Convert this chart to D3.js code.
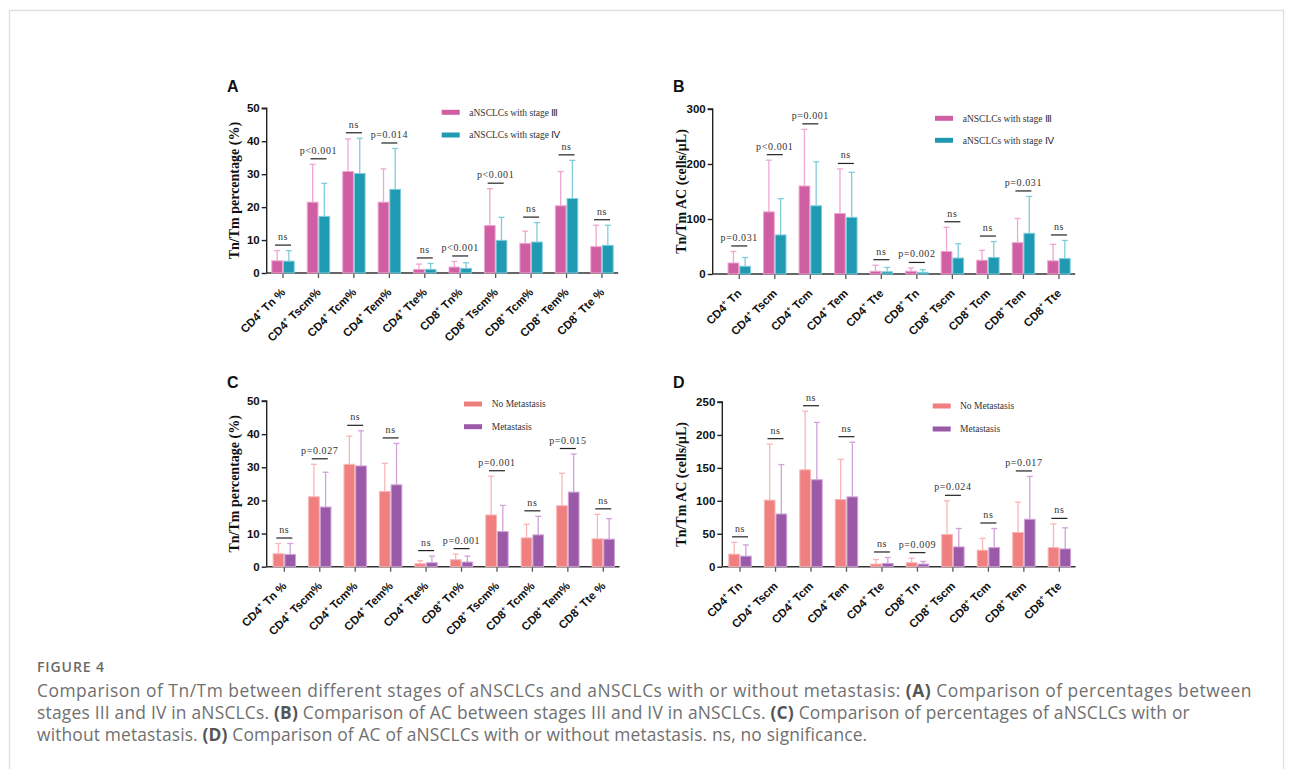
<!DOCTYPE html>
<html>
<head>
<meta charset="utf-8">
<script src="https://cdn.jsdelivr.net/npm/d3@7"></script>
<style>
  html, body { margin: 0; padding: 0; background: #fff; }
  svg { display: block; }
</style>
</head>
<body>
<svg id="fig" width="1295" height="769"></svg>
<script>
// ---------- data ----------
const pctCategories = ["CD4+ Tn %", "CD4+ Tscm%", "CD4+ Tcm%", "CD4+ Tem%", "CD4+ Tte%",
                       "CD8+ Tn%", "CD8+ Tscm%", "CD8+ Tcm%", "CD8+ Tem%", "CD8+ Tte %"];
const acCategories  = ["CD4+ Tn", "CD4+ Tscm", "CD4+ Tcm", "CD4+ Tem", "CD4+ Tte",
                       "CD8+ Tn", "CD8+ Tscm", "CD8+ Tcm", "CD8+ Tem", "CD8+ Tte"];

const stageSeries = ["aNSCLCs with stage Ⅲ", "aNSCLCs with stage Ⅳ"];
const metaSeries  = ["No Metastasis", "Metastasis"];

// A: percentages, stage III vs IV (mean, SD)
const pctStage3Mean = [3.7, 21.5, 30.8, 21.5, 1.1, 1.8, 14.4, 9.0, 20.4, 8.0];
const pctStage3SD   = [3.1, 11.5, 9.9, 10.1, 1.6, 1.7, 11.2, 3.7, 10.4, 6.5];
const pctStage4Mean = [3.6, 17.2, 30.2, 25.4, 1.1, 1.4, 9.9, 9.4, 22.6, 8.4];
const pctStage4SD   = [3.2, 10.0, 10.7, 12.4, 1.8, 1.7, 7.0, 5.9, 11.6, 6.1];
const pctStageP     = ["ns", "p<0.001", "ns", "p=0.014", "ns", "p<0.001", "p<0.001", "ns", "ns", "ns"];

// B: absolute counts, stage III vs IV
const acStage3Mean = [20, 113, 160, 110, 5, 5, 41, 25, 57, 24];
const acStage3SD   = [21, 94, 103, 81, 11, 6, 44, 18, 44, 30];
const acStage4Mean = [14, 71, 124, 103, 4, 3, 29, 30, 74, 28];
const acStage4SD   = [16, 66, 80, 82, 8, 5, 26, 29, 67, 33];
const acStageP     = ["p=0.031", "p<0.001", "p=0.001", "ns", "ns", "p=0.002", "ns", "ns", "p=0.031", "ns"];

// C: percentages, no metastasis vs metastasis
const pctNoMetMean = [3.9, 21.1, 30.9, 22.7, 0.9, 2.1, 15.6, 8.7, 18.4, 8.4];
const pctNoMetSD   = [3.1, 9.8, 8.5, 8.5, 0.9, 1.7, 11.7, 4.1, 9.8, 7.4];
const pctMetMean   = [3.7, 18.0, 30.4, 24.7, 1.2, 1.4, 10.6, 9.6, 22.5, 8.3];
const pctMetSD     = [3.3, 10.5, 10.6, 12.5, 2.0, 1.8, 7.9, 5.6, 11.5, 6.2];
const pctMetP      = ["ns", "p=0.027", "ns", "ns", "ns", "p=0.001", "p=0.001", "ns", "p=0.015", "ns"];

// D: absolute counts, no metastasis vs metastasis
const acNoMetMean = [19, 101, 147, 102, 4, 6, 49, 25, 52, 29];
const acNoMetSD   = [18, 85, 89, 61, 7, 7, 51, 18, 46, 36];
const acMetMean   = [16, 80, 132, 106, 5, 4, 30, 29, 72, 27];
const acMetSD     = [17, 75, 87, 83, 9, 4, 28, 29, 65, 32];
const acMetP      = ["ns", "ns", "ns", "ns", "ns", "p=0.009", "p=0.024", "ns", "p=0.017", "ns"];

const pctTicks = [0, 10, 20, 30, 40, 50];
const acStageTicks = [0, 100, 200, 300];
const acMetTicks = [0, 50, 100, 150, 200, 250];

const captionTitle = "FIGURE 4";
const captionLines = [
  [["Comparison of Tn/Tm between different stages of aNSCLCs and aNSCLCs with or without metastasis: ", 0], ["(A)", 1], [" Comparison of percentages between", 0]],
  [["stages III and IV in aNSCLCs. ", 0], ["(B)", 1], [" Comparison of AC between stages III and IV in aNSCLCs. ", 0], ["(C)", 1], [" Comparison of percentages of aNSCLCs with or", 0]],
  [["without metastasis. ", 0], ["(D)", 1], [" Comparison of AC of aNSCLCs with or without metastasis. ns, no significance.", 0]]
];

// ---------- styles ----------
const stageColors = { fill: ["#CF5EA3", "#1F9AB2"], light: ["#EFA6D1", "#80CCDC"] };
const metaColors  = { fill: ["#F07F80", "#9B5AA8"], light: ["#F8B6B6", "#CFA3D8"] };
const SANS = "'Liberation Sans', Arial, sans-serif";
const SERIF = "'Liberation Serif', 'Times New Roman', serif";

// ---------- panel layout ----------
const panels = [
  { letter: "A", letterX: 227, letterY: 92, cats: pctCategories, series: stageSeries, colors: stageColors,
    means: [pctStage3Mean, pctStage4Mean], sds: [pctStage3SD, pctStage4SD], pvals: pctStageP,
    ticks: pctTicks, yMax: 50, yLabel: "Tn/Tm percentage (%)",
    axisX: 266.7, bandStart: 265.3, step: 35.44, yTop: 108.3, yBottom: 273, yLabelX: 234,
    legendX: 441.7, legendY: [112.3, 135], legendTextX: 469.3 },
  { letter: "B", letterX: 673, letterY: 92, cats: acCategories, series: stageSeries, colors: stageColors,
    means: [acStage3Mean, acStage4Mean], sds: [acStage3SD, acStage4SD], pvals: acStageP,
    ticks: acStageTicks, yMax: 300, yLabel: "Tn/Tm AC (cells/μL)",
    axisX: 712.7, bandStart: 721.5, step: 35.52, yTop: 109, yBottom: 274, yLabelX: 681,
    legendX: 935, legendY: [118.3, 140.3], legendTextX: 962.7 },
  { letter: "C", letterX: 227, letterY: 388, cats: pctCategories, series: metaSeries, colors: metaColors,
    means: [pctNoMetMean, pctMetMean], sds: [pctNoMetSD, pctMetSD], pvals: pctMetP,
    ticks: pctTicks, yMax: 50, yLabel: "Tn/Tm percentage (%)",
    axisX: 266.7, bandStart: 266.6, step: 35.44, yTop: 401, yBottom: 566.7, yLabelX: 234,
    legendX: 464, legendY: [404, 426.7], legendTextX: 491.7 },
  { letter: "D", letterX: 673, letterY: 388, cats: acCategories, series: metaSeries, colors: metaColors,
    means: [acNoMetMean, acMetMean], sds: [acNoMetSD, acMetSD], pvals: acMetP,
    ticks: acMetTicks, yMax: 250, yLabel: "Tn/Tm AC (cells/μL)",
    axisX: 722.3, bandStart: 722.3, step: 35.48, yTop: 402, yBottom: 566.7, yLabelX: 681,
    legendX: 932.7, legendY: [406, 429], legendTextX: 960 }
];

const svg = d3.select("#fig");

// outer frame of the figure box
svg.append("path")
  .attr("d", "M9.5,790 V10.5 H1283.5 V790")
  .attr("fill", "none").attr("stroke", "#dedede").attr("stroke-width", 1.3);

function drawPanel(p) {
  const g = svg.append("g");
  const n = p.cats.length;

  const x = d3.scaleBand().domain(p.cats)
    .range([p.bandStart, p.bandStart + n * p.step])
    .paddingInner(0.34).paddingOuter(0.17);
  const xs = d3.scaleBand().domain([0, 1]).range([0, x.bandwidth()]);
  const y = d3.scaleLinear().domain([0, p.yMax]).range([p.yBottom, p.yTop]);

  // panel letter
  g.append("text").attr("x", p.letterX).attr("y", p.letterY)
    .attr("font-family", SANS).attr("font-weight", 700).attr("font-size", 16)
    .attr("fill", "#111").text(p.letter);

  // y axis
  const yAxis = g.append("g").attr("transform", `translate(${p.axisX},0)`)
    .call(d3.axisLeft(y).tickValues(p.ticks).tickSize(5).tickPadding(2).tickFormat(d3.format("d")));
  yAxis.select(".domain").attr("stroke", "#222").attr("stroke-width", 1.4).attr("d", `M-5,${y(p.yMax)}H0V${y(0)}`);
  yAxis.selectAll(".tick line").attr("stroke", "#222").attr("stroke-width", 1.4);
  yAxis.selectAll(".tick text").attr("font-family", SANS).attr("font-weight", 700)
    .attr("font-size", 11.5).attr("fill", "#111");

  // y label
  g.append("text")
    .attr("transform", `translate(${p.yLabelX},${(p.yTop + p.yBottom) / 2}) rotate(-90)`)
    .attr("text-anchor", "middle").attr("dy", "0.35em")
    .attr("font-family", SERIF).attr("font-weight", 700).attr("font-size", 14)
    .attr("fill", "#111").text(p.yLabel);

  // x axis
  const xEnd = p.bandStart + n * p.step;
  g.append("line").attr("x1", p.axisX).attr("x2", xEnd - 1.5)
    .attr("y1", p.yBottom).attr("y2", p.yBottom)
    .attr("stroke", "#333").attr("stroke-width", 1.4);
  g.selectAll(".xtick").data(p.cats).join("line")
    .attr("x1", d => x(d) + x.bandwidth() / 2).attr("x2", d => x(d) + x.bandwidth() / 2)
    .attr("y1", p.yBottom).attr("y2", p.yBottom + 5)
    .attr("stroke", "#555").attr("stroke-width", 1.3);

  // x labels with superscript "+"
  p.cats.forEach(c => {
    const [cell, subset] = c.split("+");
    const t = g.append("text")
      .attr("transform", `translate(${x(c) + x.bandwidth() / 2 + 3},${p.yBottom + 20}) rotate(-45)`)
      .attr("text-anchor", "end")
      .attr("font-family", SANS).attr("font-weight", 700).attr("font-size", 11.5).attr("fill", "#111");
    t.append("tspan").text(cell);
    t.append("tspan").attr("dy", -5).attr("font-size", 7).text("+");
    t.append("tspan").attr("dy", 5).text(subset);
  });

  // bars, error bars
  p.series.forEach((s, si) => {
    const gs = g.append("g");
    const means = p.means[si], sds = p.sds[si];
    const idx = d3.range(n);
    const bx = i => x(p.cats[i]) + xs(si);
    const bw = xs.bandwidth();

    // upward SD bars
    gs.selectAll(".err").data(idx).join("line")
      .attr("x1", i => bx(i) + bw / 2).attr("x2", i => bx(i) + bw / 2)
      .attr("y1", i => y(means[i])).attr("y2", i => y(means[i] + sds[i]))
      .attr("stroke", p.colors.light[si]).attr("stroke-width", 1.3);
    gs.selectAll(".cap").data(idx).join("line")
      .attr("x1", i => bx(i) + bw / 2 - 3).attr("x2", i => bx(i) + bw / 2 + 3)
      .attr("y1", i => y(means[i] + sds[i])).attr("y2", i => y(means[i] + sds[i]))
      .attr("stroke", p.colors.light[si]).attr("stroke-width", 1.3);

    gs.selectAll(".bar").data(idx).join("rect")
      .attr("x", i => bx(i) + 0.5).attr("width", bw - 1)
      .attr("y", i => y(means[i])).attr("height", i => y(0) - y(means[i]))
      .attr("fill", p.colors.fill[si])
      .attr("stroke", p.colors.light[si]).attr("stroke-width", 1);
  });

  // significance brackets
  d3.range(n).forEach(i => {
    const top = d3.max([0, 1], si => p.means[si][i] + p.sds[si][i]);
    const cx = x(p.cats[i]) + x.bandwidth() / 2;
    const ly = y(top) - 5.5;
    g.append("line").attr("x1", cx - 8).attr("x2", cx + 8).attr("y1", ly).attr("y2", ly)
      .attr("stroke", "#222").attr("stroke-width", 1.2);
    g.append("text").attr("x", cx).attr("y", ly - 5)
      .attr("text-anchor", "middle")
      .attr("font-family", SERIF).attr("font-size", 10).attr("letter-spacing", 0.6)
      .attr("fill", "#333").text(p.pvals[i]);
  });

  // legend
  p.series.forEach((s, si) => {
    const ly = p.legendY[si];
    g.append("rect").attr("x", p.legendX).attr("y", ly - 2.5).attr("width", 18).attr("height", 5)
      .attr("fill", p.colors.fill[si]);
    g.append("text").attr("x", p.legendTextX).attr("y", ly + 3.3)
      .attr("font-family", SERIF).attr("font-size", 9.5).attr("fill", "#333").text(s);
  });
}

panels.forEach(drawPanel);

// caption
svg.append("text").attr("x", 37).attr("y", 671.5)
  .attr("font-family", "'Open Sans', sans-serif").attr("font-weight", 600).attr("font-size", 14)
  .attr("letter-spacing", 0.9)
  .attr("fill", "#6b6b6b").text(captionTitle);

const captionSpacing = [0.52, 0.21, 0.15];
captionLines.forEach((line, li) => {
  const t = svg.append("text").attr("x", 37).attr("y", 697 + li * 22)
    .attr("font-family", "'Open Sans', sans-serif").attr("font-size", 17.4)
    .attr("letter-spacing", captionSpacing[li])
    .attr("fill", "#707070");
  line.forEach(([txt, bold]) => {
    t.append("tspan").attr("font-weight", bold ? 700 : 400)
      .attr("fill", bold ? "#555" : "#707070").text(txt);
  });
});
</script>
</body>
</html>
